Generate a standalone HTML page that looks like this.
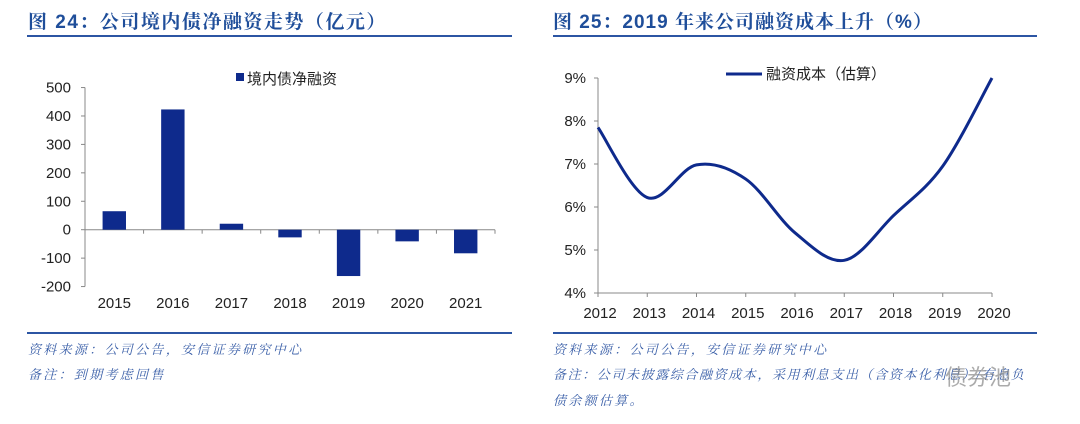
<!DOCTYPE html>
<html><head><meta charset="utf-8"><style>
body{margin:0;width:1080px;height:424px;background:#fff;overflow:hidden;position:relative;font-family:"Liberation Sans","Noto Sans CJK SC",sans-serif}
.t{position:absolute;font-weight:bold;color:#1f4e9a;font-size:19px;font-family:"Liberation Sans","Noto Serif CJK SC",serif;letter-spacing:1.5px}
.rule{position:absolute;height:2px;background:#2c55a3}
.note{position:absolute;font-size:13px;color:#3a5fa8;font-style:italic;font-family:"Liberation Serif","Noto Serif CJK SC",serif;letter-spacing:2.3px}
svg{position:absolute;left:0;top:0}
</style></head><body>
<div class="t" style="left:28px;top:7px">图 24：公司境内债净融资走势（亿元）</div>
<div class="rule" style="left:27px;top:35px;width:485px"></div>
<div class="t" style="left:553px;top:7px;letter-spacing:1px">图 25：2019 年来公司融资成本上升（%）</div>
<div class="rule" style="left:553px;top:35px;width:484px"></div>
<div class="rule" style="left:27px;top:332px;width:485px;height:1.5px"></div>
<div class="rule" style="left:553px;top:332px;width:484px;height:1.5px"></div>
<div class="note" style="left:28px;top:339px">资料来源：公司公告，安信证券研究中心</div>
<div class="note" style="left:28px;top:364px">备注：到期考虑回售</div>
<div class="note" style="left:553px;top:339px">资料来源：公司公告，安信证券研究中心</div>
<div class="note" style="left:553px;top:364px;letter-spacing:1.6px">备注：公司未披露综合融资成本，采用利息支出（含资本化利息）/有息负</div>
<div class="note" style="left:553px;top:390px">债余额估算。</div>
<div style="position:absolute;left:945px;top:360px;font-size:22px;color:#888;opacity:.7">债券池</div>
<svg width="1080" height="424" id="svg"></svg>
<script>
const barCats=["2015","2016","2017","2018","2019","2020","2021"];
const barVals=[65,423,21,-27,-163,-41,-83];
const barTicks=[500,400,300,200,100,0,-100,-200];
const lineCats=["2012","2013","2014","2015","2016","2017","2018","2019","2020"];
const lineVals=[7.85,6.22,6.98,6.65,5.4,4.76,5.8,6.95,9.0];
const lineTicks=[9,8,7,6,5,4];
const svg=document.getElementById('svg');
const NS='http://www.w3.org/2000/svg';
function mk(t,a,txt){const e=document.createElementNS(NS,t);for(const k in a)e.setAttribute(k,a[k]);if(txt!=null)e.textContent=txt;svg.appendChild(e);return e;}
// left chart
const lx0=85,lx1=495;
const ly=v=>229.7-v*0.2843;
const bw=(lx1-lx0)/barCats.length;
let e=mk('line',{x1:lx0,y1:ly(500),x2:lx0,y2:ly(-200),stroke:'#888'});

barTicks.forEach(t=>{
 let k=mk('line',{x1:lx0-4,y1:ly(t),x2:lx0,y2:ly(t),stroke:'#888'});
 
 let l=mk('text',{x:lx0-14,y:ly(t)+5,'text-anchor':'end','font-size':15,fill:'#222'},t);
 
});
e=mk('line',{x1:lx0,y1:ly(0),x2:lx1,y2:ly(0),stroke:'#888'});

barCats.forEach((c,i)=>{
 let k=mk('line',{x1:lx0+bw*(i+1),y1:ly(0),x2:lx0+bw*(i+1),y2:ly(0)+4,stroke:'#888'});
 
 const cx=lx0+bw*(i+0.5),v=barVals[i];
 let b=mk('rect',{x:cx-11.7,y:Math.min(ly(v),ly(0)),width:23.4,height:Math.abs(ly(v)-ly(0)),fill:'#0e2a8c'});
 
 let l=mk('text',{x:cx,y:308,'text-anchor':'middle','font-size':15,fill:'#222'},c);
 
});
e=mk('rect',{x:236,y:73,width:8,height:8,fill:'#0e2a8c'});

e=mk('text',{x:247,y:84,'font-size':15,fill:'#222'},'境内债净融资');

// right chart
const rx0=598,rstep=(992-598)/8;
const rx=i=>rx0+rstep*i;
const ry=v=>293-(v-4)*43;
e=mk('line',{x1:rx0,y1:ry(9),x2:rx0,y2:ry(4),stroke:'#888'});

e=mk('line',{x1:rx0,y1:ry(4),x2:rx(8),y2:ry(4),stroke:'#888'});

lineTicks.forEach(t=>{
 let k=mk('line',{x1:rx0-4,y1:ry(t),x2:rx0,y2:ry(t),stroke:'#888'});
 
 let l=mk('text',{x:rx0-12,y:ry(t)+5,'text-anchor':'end','font-size':15,fill:'#222'},t+'%');
 
});
lineCats.forEach((c,i)=>{
 let k=mk('line',{x1:rx(i),y1:ry(4),x2:rx(i),y2:ry(4)+4,stroke:'#888'});
 
 let l=mk('text',{x:rx(i)+2,y:318,'text-anchor':'middle','font-size':15,fill:'#222'},c);
 
});
const pts=lineVals.map((v,i)=>[rx(i),ry(v)]);
let d='M'+pts[0][0]+','+pts[0][1];
for(let i=0;i<pts.length-1;i++){
 const p0=pts[Math.max(0,i-1)],p1=pts[i],p2=pts[i+1],p3=pts[Math.min(pts.length-1,i+2)];
 const c1=[p1[0]+(p2[0]-p0[0])/6,p1[1]+(p2[1]-p0[1])/6],c2=[p2[0]-(p3[0]-p1[0])/6,p2[1]-(p3[1]-p1[1])/6];
 d+=' C'+c1+' '+c2+' '+p2;
}
e=mk('path',{d:d,fill:'none',stroke:'#0e2a8c','stroke-width':3});

e=mk('line',{x1:726,y1:74,x2:762,y2:74,stroke:'#0e2a8c','stroke-width':3});

e=mk('text',{x:766,y:79,'font-size':15,fill:'#222'},'融资成本（估算）');

</script>
</body></html>
